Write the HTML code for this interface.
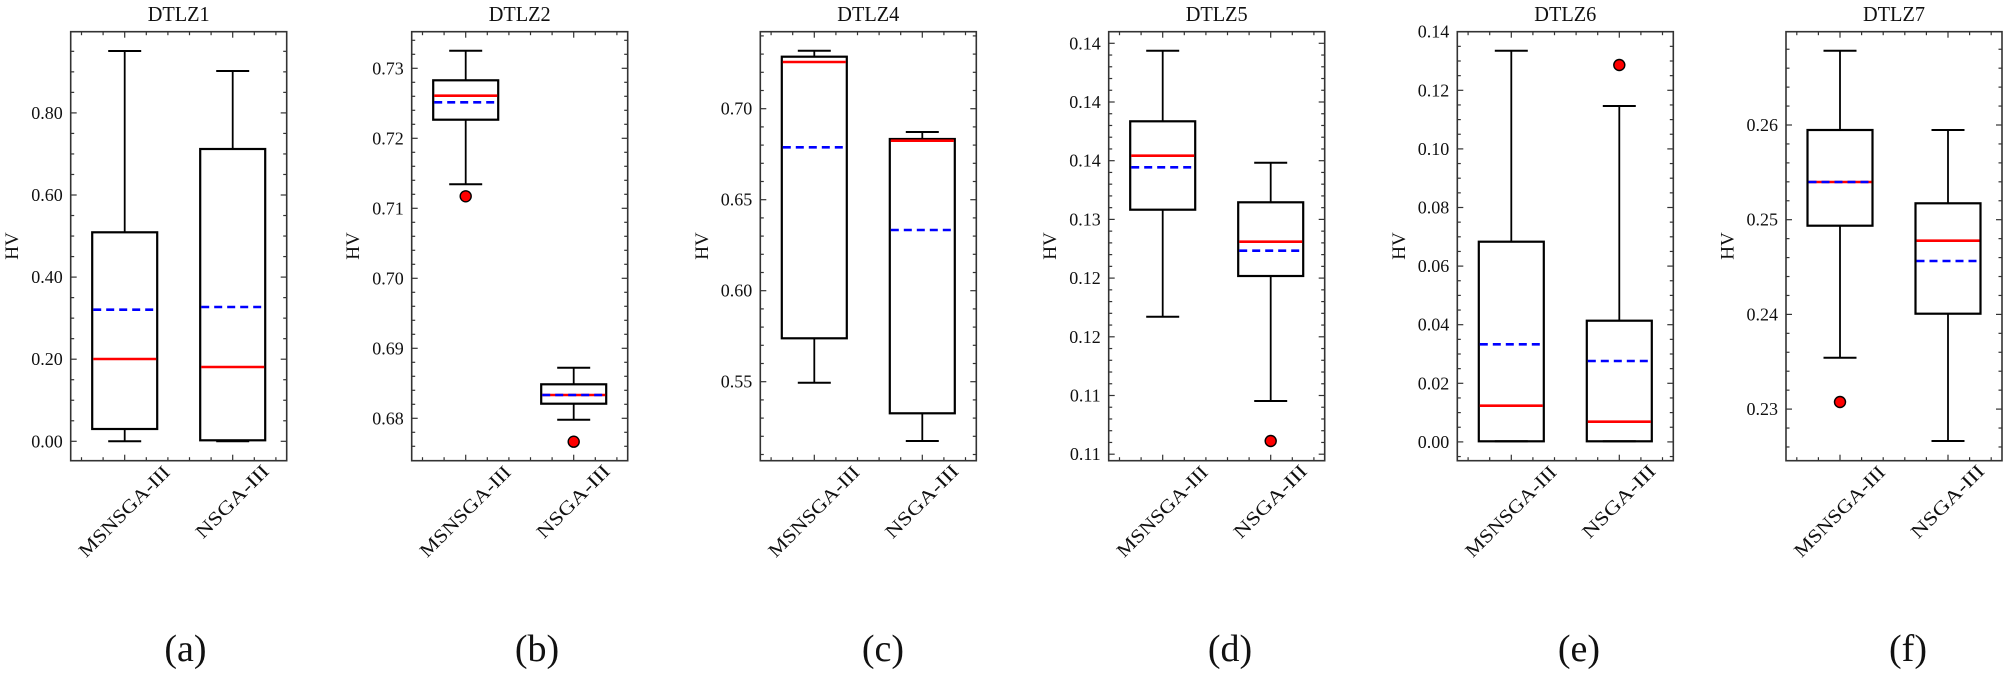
<!DOCTYPE html>
<html><head><meta charset="utf-8"><style>
html,body{margin:0;padding:0;background:#fff;}
svg{display:block;}
text{font-family:"Liberation Serif","DejaVu Serif",serif !important;fill:#111;}
.t{font-size:21px;text-anchor:middle;}
.y{font-size:18px;text-anchor:end;dominant-baseline:central;}
.c{font-size:19px;text-anchor:middle;dominant-baseline:central;}
.f{font-size:38px;text-anchor:middle;}
</style></head><body>
<svg id="s" width="2006" height="676" viewBox="0 0 2006 676" xmlns="http://www.w3.org/2000/svg" font-family="Liberation Serif, DejaVu Serif, serif">
<g id="g"></g>
<!-- panel 1 -->
<text class="t" x="178.7" y="21" textLength="62" lengthAdjust="spacingAndGlyphs">DTLZ1</text>
<text class="y" x="62.7" y="441.3">0.00</text>
<text class="y" x="62.7" y="359.2">0.20</text>
<text class="y" x="62.7" y="277.1">0.40</text>
<text class="y" x="62.7" y="195">0.60</text>
<text class="y" x="62.7" y="112.9">0.80</text>
<text class="c" x="12.7" y="246" transform="rotate(-90 12.7 246)">HV</text>
<text class="c" x="124.7" y="512" textLength="120" lengthAdjust="spacingAndGlyphs" transform="rotate(-45 124.7 512)">MSNSGA-III</text>
<text class="c" x="232.7" y="502" textLength="95" lengthAdjust="spacingAndGlyphs" transform="rotate(-45 232.7 502)">NSGA-III</text>
<text class="f" x="185.5" y="661">(a)</text>
<!-- panel 2 -->
<text class="t" x="519.7" y="21" textLength="62" lengthAdjust="spacingAndGlyphs">DTLZ2</text>
<text class="y" x="403.7" y="68.3">0.73</text>
<text class="y" x="403.7" y="138.3">0.72</text>
<text class="y" x="403.7" y="208.3">0.71</text>
<text class="y" x="403.7" y="278.3">0.70</text>
<text class="y" x="403.7" y="348.3">0.69</text>
<text class="y" x="403.7" y="418.3">0.68</text>
<text class="c" x="353.7" y="246" transform="rotate(-90 353.7 246)">HV</text>
<text class="c" x="465.7" y="512" textLength="120" lengthAdjust="spacingAndGlyphs" transform="rotate(-45 465.7 512)">MSNSGA-III</text>
<text class="c" x="573.7" y="502" textLength="95" lengthAdjust="spacingAndGlyphs" transform="rotate(-45 573.7 502)">NSGA-III</text>
<text class="f" x="537" y="661">(b)</text>
<!-- panel 3 -->
<text class="t" x="868.3" y="21" textLength="62" lengthAdjust="spacingAndGlyphs">DTLZ4</text>
<text class="y" x="752.3" y="108.7">0.70</text>
<text class="y" x="752.3" y="199.7">0.65</text>
<text class="y" x="752.3" y="290.7">0.60</text>
<text class="y" x="752.3" y="381.7">0.55</text>
<text class="c" x="702.3" y="246" transform="rotate(-90 702.3 246)">HV</text>
<text class="c" x="814.3" y="512" textLength="120" lengthAdjust="spacingAndGlyphs" transform="rotate(-45 814.3 512)">MSNSGA-III</text>
<text class="c" x="922.3" y="502" textLength="95" lengthAdjust="spacingAndGlyphs" transform="rotate(-45 922.3 502)">NSGA-III</text>
<text class="f" x="883" y="661">(c)</text>
<!-- panel 4 -->
<text class="t" x="1216.7" y="21" textLength="62" lengthAdjust="spacingAndGlyphs">DTLZ5</text>
<text class="y" x="1100.7" y="43.3">0.14</text>
<text class="y" x="1100.7" y="102">0.14</text>
<text class="y" x="1100.7" y="160.7">0.14</text>
<text class="y" x="1100.7" y="219.4">0.13</text>
<text class="y" x="1100.7" y="278.1">0.12</text>
<text class="y" x="1100.7" y="336.8">0.12</text>
<text class="y" x="1100.7" y="395.5">0.11</text>
<text class="y" x="1100.7" y="454.2">0.11</text>
<text class="c" x="1050.7" y="246" transform="rotate(-90 1050.7 246)">HV</text>
<text class="c" x="1162.7" y="512" textLength="120" lengthAdjust="spacingAndGlyphs" transform="rotate(-45 1162.7 512)">MSNSGA-III</text>
<text class="c" x="1270.7" y="502" textLength="95" lengthAdjust="spacingAndGlyphs" transform="rotate(-45 1270.7 502)">NSGA-III</text>
<text class="f" x="1230" y="661">(d)</text>
<!-- panel 5 -->
<text class="t" x="1565.3" y="21" textLength="62" lengthAdjust="spacingAndGlyphs">DTLZ6</text>
<text class="y" x="1449.3" y="31.7">0.14</text>
<text class="y" x="1449.3" y="90.3">0.12</text>
<text class="y" x="1449.3" y="148.9">0.10</text>
<text class="y" x="1449.3" y="207.5">0.08</text>
<text class="y" x="1449.3" y="266.1">0.06</text>
<text class="y" x="1449.3" y="324.7">0.04</text>
<text class="y" x="1449.3" y="383.3">0.02</text>
<text class="y" x="1449.3" y="441.9">0.00</text>
<text class="c" x="1399.3" y="246" transform="rotate(-90 1399.3 246)">HV</text>
<text class="c" x="1511.3" y="512" textLength="120" lengthAdjust="spacingAndGlyphs" transform="rotate(-45 1511.3 512)">MSNSGA-III</text>
<text class="c" x="1619.3" y="502" textLength="95" lengthAdjust="spacingAndGlyphs" transform="rotate(-45 1619.3 502)">NSGA-III</text>
<text class="f" x="1579" y="661">(e)</text>
<!-- panel 6 -->
<text class="t" x="1894" y="21" textLength="62" lengthAdjust="spacingAndGlyphs">DTLZ7</text>
<text class="y" x="1778" y="125">0.26</text>
<text class="y" x="1778" y="219.7">0.25</text>
<text class="y" x="1778" y="314.4">0.24</text>
<text class="y" x="1778" y="409.1">0.23</text>
<text class="c" x="1728" y="246" transform="rotate(-90 1728 246)">HV</text>
<text class="c" x="1840" y="512" textLength="120" lengthAdjust="spacingAndGlyphs" transform="rotate(-45 1840 512)">MSNSGA-III</text>
<text class="c" x="1948" y="502" textLength="95" lengthAdjust="spacingAndGlyphs" transform="rotate(-45 1948 502)">NSGA-III</text>
<text class="f" x="1908" y="661">(f)</text>
</svg>
<script>
(function(){
var ts=document.querySelectorAll('text');for(var i=0;i<ts.length;i++){ts[i].style.fontFamily='"Liberation Serif", "DejaVu Serif", serif';}
var g=document.getElementById('g'),NS='http://www.w3.org/2000/svg',T=31.7,B=460.7,W=216;
function el(n,a){var e=document.createElementNS(NS,n);for(var k in a)e.setAttribute(k,a[k]);g.appendChild(e);return e;}
function ln(x1,y1,x2,y2,st,sw,da){var a={x1:x1,y1:y1,x2:x2,y2:y2,stroke:st,'stroke-width':sw};if(da)a['stroke-dasharray']=da;el('line',a);}
var P=[
 {L:70.7,p0:441.3,d:-82.1,n:4,b:[[51,232.3,359,309.7,429,441.3,[]],[71,149,367,307,440.3,441.3,[]]]},
 {L:411.7,p0:68.3,d:70,n:5,b:[[50.7,80.3,95.7,102.3,119.7,184.3,[196.3]],[367.7,384.3,395,395,403.7,419.7,[441.7]]]},
 {L:760.3,p0:108.7,d:91,n:5,b:[[50.7,56.7,62,147.3,338.3,382.7,[]],[132,139,140.7,230,413.3,441,[]]]},
 {L:1108.7,p0:43.3,d:58.7,n:5,b:[[50.7,121.3,155.7,167.3,209.7,316.7,[]],[162.7,202.3,241.7,250.7,276,401,[441]]]},
 {L:1457.3,p0:31.7,d:58.6,n:4,b:[[50.7,241.7,405.7,344.3,441.3,441.3,[]],[106,320.7,421.7,361,441.3,441.3,[65]]]},
 {L:1786,p0:125,d:94.7,n:5,b:[[50.7,130,182,182,225.7,357.7,[402]],[130,203.3,240.7,261,313.7,441,[]]]}
];
P.forEach(function(p){
 var L=p.L,R=L+W,k,y,maj,len;
 var step=Math.abs(p.d)/p.n;
 for(k=-60;k<=60;k++){y=p.p0+k*step;if(y<T+1||y>B-1)continue;maj=(k%p.n===0);len=maj?6:3.5;
  ln(L,y,L+len,y,'#333',1.2);ln(R,y,R-len,y,'#333',1.2);}
 for(k=0;k<10;k++){var x=L+10.8+k*21.6;maj=(k===2||k===7);len=maj?6:3.5;
  ln(x,B,x,B-len,'#333',1.2);ln(x,T,x,T+len,'#333',1.2);}
 p.b.forEach(function(b,i){
  var c=L+54+i*108,h=32.5,cp=16.5;
  ln(c,b[0],c,b[1],'#000',1.8);ln(c,b[4],c,b[5],'#000',1.8);
  ln(c-cp,b[0],c+cp,b[0],'#000',2);ln(c-cp,b[5],c+cp,b[5],'#000',2);
  el('rect',{x:c-h,y:b[1],width:2*h,height:b[4]-b[1],fill:'none',stroke:'#000','stroke-width':2.2});
  ln(c-h+1,b[2],c+h-1,b[2],'#f00',2.6);
  ln(c-h+1,b[3],c+h-1,b[3],'#00f',2.6,'8,5');
  b[6].forEach(function(o){el('circle',{cx:c,cy:o,r:5.5,fill:'#f00',stroke:'#000','stroke-width':1.4});});
 });
 el('rect',{x:L,y:T,width:W,height:B-T,fill:'none',stroke:'#333','stroke-width':1.6});
});
})();
</script>
</body></html>
